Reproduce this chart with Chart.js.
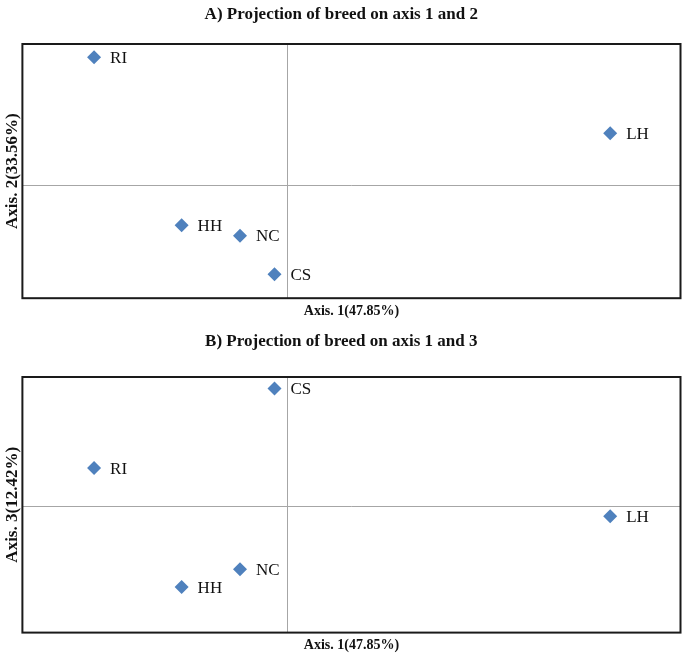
<!DOCTYPE html>
<html>
<head>
<meta charset="utf-8">
<script src="https://cdn.jsdelivr.net/npm/chart.js@4.4.1/dist/chart.umd.min.js"></script>
<style>
  html, body { margin: 0; padding: 0; background: #fff; overflow: hidden; }
  .wrap { position: relative; width: 682px; }
</style>
</head>
<body>
<div class="wrap" style="height:325px"><canvas id="chartA"></canvas></div>
<div class="wrap" style="height:330px"><canvas id="chartB"></canvas></div>
<script>
// Breeds and their coordinates on the factorial axes
const breeds = ['RI', 'LH', 'HH', 'NC', 'CS'];
const axis1 = [-0.73, 1.215, -0.40, -0.18, -0.05];
const axis2 = [0.915, 0.375, -0.28, -0.355, -0.63];
const axis3 = [0.30, -0.08, -0.64, -0.50, 0.93];

const markerColor = '#4f81bd';
const serif = "'Liberation Serif', 'Times New Roman', serif";

// Labels drawn next to each point
const pointLabels = {
    id: 'pointLabels',
    afterDatasetsDraw(chart) {
        const ctx = chart.ctx;
        const meta = chart.getDatasetMeta(0);
        ctx.save();
        ctx.font = '17px ' + serif;
        ctx.fillStyle = '#111';
        ctx.textBaseline = 'middle';
        meta.data.forEach((pt, i) => {
            ctx.fillText(breeds[i], pt.x + 16, pt.y + 1);
        });
        ctx.restore();
    }
};

// Black frame round the plot area
const frame = {
    id: 'frame',
    afterDraw(chart) {
        const a = chart.chartArea;
        const ctx = chart.ctx;
        ctx.save();
        ctx.strokeStyle = '#1a1a1a';
        ctx.lineWidth = 2;
        ctx.strokeRect(a.left, a.top, a.right - a.left, a.bottom - a.top);
        ctx.restore();
    }
};

function makeChart(id, title, yValues, yTitle, yMin, yMax, pad) {
    const canvas = document.getElementById(id);
    const ctx = canvas.getContext('2d');
    return new Chart(ctx, {
        type: 'scatter',
        data: {
            datasets: [{
                data: axis1.map((x, i) => ({ x: x, y: yValues[i] })),
                pointStyle: 'rectRot',
                pointRadius: 7,
                pointHoverRadius: 7,
                backgroundColor: markerColor,
                borderColor: markerColor,
                borderWidth: 0
            }]
        },
        options: {
            responsive: true,
            maintainAspectRatio: false,
            animation: false,
            layout: {
                autoPadding: false,
                padding: { left: 2, right: 1.5, top: 0, bottom: pad.bottom }
            },
            plugins: {
                legend: { display: false },
                tooltip: { enabled: false },
                title: {
                    display: true,
                    text: title,
                    color: '#111',
                    font: { family: serif, size: 17, weight: 'bold' },
                    padding: { top: pad.titleTop, bottom: pad.titleBottom }
                }
            },
            scales: {
                x: {
                    min: -1,
                    max: 1.48,
                    afterBuildTicks: s => { s.ticks = [{ value: 0 }]; },
                    ticks: { display: false },
                    border: { display: false },
                    grid: {
                        drawTicks: false,
                        color: '#a6a6a6'
                    },
                    title: {
                        display: true,
                        text: 'Axis. 1(47.85%)',
                        color: '#111',
                        font: { family: serif, size: 14, weight: 'bold' },
                        padding: { top: pad.xTitleTop, bottom: 0 }
                    }
                },
                y: {
                    min: yMin,
                    max: yMax,
                    afterBuildTicks: s => { s.ticks = [{ value: 0 }]; },
                    ticks: { display: false },
                    border: { display: false },
                    grid: {
                        drawTicks: false,
                        color: '#a6a6a6'
                    },
                    title: {
                        display: true,
                        text: yTitle,
                        color: '#111',
                        font: { family: serif, size: 17, weight: 'bold' },
                        padding: { top: 0, bottom: 0 }
                    }
                }
            }
        },
        plugins: [pointLabels, frame]
    });
}

makeChart('chartA', 'A) Projection of breed on axis 1 and 2', axis2, 'Axis. 2(33.56%)', -0.8, 1.01,
    { bottom: 5, titleTop: 4, titleBottom: 19.6, xTitleTop: 5 });
makeChart('chartB', 'B) Projection of breed on axis 1 and 3', axis3, 'Axis. 3(12.42%)', -1, 1.02,
    { bottom: 1.6, titleTop: 6, titleBottom: 25.6, xTitleTop: 4 });
</script>
</body>
</html>
